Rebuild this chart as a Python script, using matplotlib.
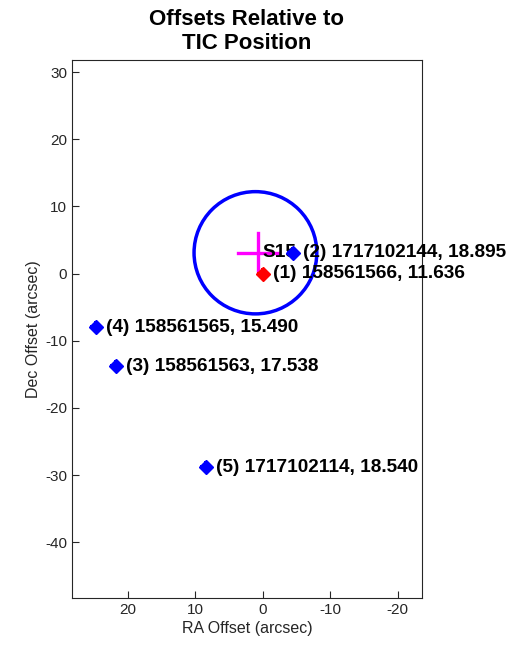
import matplotlib
matplotlib.use('Agg')
import matplotlib.pyplot as plt
from matplotlib.patches import Circle

plt.rcParams['font.family'] = ['Liberation Sans', 'DejaVu Sans']
plt.rcParams['axes.unicode_minus'] = False

# Offsets of nearby stars (RA, Dec in arcsec) and their labels
ra_off = [0.0, -4.4, 21.8, 24.7, 8.4]
dec_off = [0.0, 3.1, -13.8, -8.0, -28.8]
star_ids = ['158561566', '1717102144', '158561563', '158561565', '1717102114']
star_vals = ['11.636', '18.895', '17.538', '15.490', '18.540']
star_colors = ['red', 'blue', 'blue', 'blue', 'blue']

# Source position (magenta cross) and aperture circle
src_ra, src_dec = 0.7, 3.1
src_label = 'S15'
cross_len = 3.0
circ_ra, circ_dec, circ_r = 1.1, 3.1, 9.1

fig = plt.figure(figsize=(5.08, 6.5), dpi=100)
ax = fig.add_axes([0.1417, 0.08, 0.689, 0.8277])

ax.add_patch(Circle((circ_ra, circ_dec), circ_r, fill=False, edgecolor='blue', lw=2.5, zorder=2))
ax.plot([src_ra - cross_len, src_ra + cross_len], [src_dec, src_dec], color='magenta', lw=2.4, zorder=3)
ax.plot([src_ra, src_ra], [src_dec - cross_len, src_dec + cross_len], color='magenta', lw=2.4, zorder=3)
ax.text(src_ra - 0.6, src_dec, src_label, fontsize=13.7, fontweight='bold', va='center', ha='left', zorder=4)

for i in range(len(ra_off)):
    ax.text(ra_off[i] - 1.5, dec_off[i], '(%d) %s, %s' % (i + 1, star_ids[i], star_vals[i]),
            fontsize=13.7, fontweight='bold', va='center', ha='left', zorder=4)
    ax.plot(ra_off[i], dec_off[i], marker='D', markersize=7, color=star_colors[i],
            markeredgecolor=star_colors[i], zorder=5)
    ax.plot(ra_off[i], dec_off[i], marker='P', markersize=8, color=star_colors[i],
            markeredgewidth=0, zorder=5)

ax.set_xlim(28.3, -23.6)
ax.set_ylim(-48.3, 31.8)
ax.set_xticks([20, 10, 0, -10, -20])
ax.set_yticks([30, 20, 10, 0, -10, -20, -30, -40])
ax.tick_params(direction='in', length=5, labelsize=11, colors='#262626', top=False, right=False)
for s in ax.spines.values():
    s.set_color('#262626')
    s.set_linewidth(0.8)

ax.set_xlabel('RA Offset (arcsec)', fontsize=11.5, color='#262626', labelpad=3)
ax.set_ylabel('Dec Offset (arcsec)', fontsize=11.5, color='#262626', labelpad=3)
ax.set_title('Offsets Relative to\nTIC Position', fontsize=16, fontweight='bold', pad=8)

fig.savefig('out.png', dpi=100)
